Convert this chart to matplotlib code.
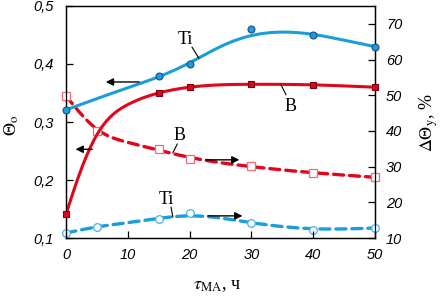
import numpy as np
import matplotlib
matplotlib.use('Agg')
import matplotlib.pyplot as plt
from matplotlib.ticker import FuncFormatter
from matplotlib.font_manager import FontProperties

plt.rcParams['mathtext.fontset'] = 'stix'

# measured points (left axis: Theta_o, right axis: dTheta_y, %)
t_pts = [0, 15, 20, 30, 40, 50]
ti_theta = [0.321, 0.379, 0.400, 0.460, 0.450, 0.429]
b_theta = [0.141, 0.350, 0.360, 0.365, 0.364, 0.360]

t_pts2 = [0, 5, 15, 20, 30, 40, 50]
b_dtheta = [49.8, 40.0, 34.9, 32.1, 30.2, 28.2, 27.1]
ti_dtheta = [11.4, 13.1, 15.3, 17.0, 14.2, 12.2, 12.8]

# trend curves
ti_cx = [0, 10, 15, 20, 25, 30, 35, 40, 45, 50]
ti_cy = [0.321, 0.359, 0.378, 0.402, 0.430, 0.449, 0.455, 0.451, 0.441, 0.430]
b_cx = [0, 2, 5, 10, 15, 20, 30, 40, 50]
b_cy = [0.141, 0.205, 0.278, 0.330, 0.350, 0.360, 0.365, 0.364, 0.360]
bd_cx = [0, 5, 10, 15, 20, 30, 40, 50]
bd_cy = [49.8, 40.5, 36.8, 34.6, 32.6, 30.0, 28.3, 27.0]
tid_cx = [0, 5, 10, 15, 20, 25, 30, 40, 50]
tid_cy = [11.4, 13.1, 14.3, 15.5, 16.2, 15.6, 14.3, 12.6, 12.8]

blue = '#1a9ddb'
red = '#e3051b'


def spline(xk, yk, n=300):
    # natural cubic spline, only to draw the curves smooth
    xk = np.asarray(xk, float)
    yk = np.asarray(yk, float)
    k = len(xk)
    h = np.diff(xk)
    A = np.zeros((k, k))
    r = np.zeros(k)
    A[0, 0] = A[-1, -1] = 1
    for i in range(1, k - 1):
        A[i, i - 1] = h[i - 1]
        A[i, i] = 2 * (h[i - 1] + h[i])
        A[i, i + 1] = h[i]
        r[i] = 6 * ((yk[i + 1] - yk[i]) / h[i] - (yk[i] - yk[i - 1]) / h[i - 1])
    M = np.linalg.solve(A, r)
    xs = np.linspace(xk[0], xk[-1], n)
    j = np.clip(np.searchsorted(xk, xs) - 1, 0, k - 2)
    dx = xs - xk[j]
    hj = h[j]
    b = (yk[j + 1] - yk[j]) / hj - hj * (2 * M[j] + M[j + 1]) / 6
    ys = yk[j] + b * dx + M[j] / 2 * dx ** 2 + (M[j + 1] - M[j]) / (6 * hj) * dx ** 3
    return xs, ys


fig = plt.figure(figsize=(4.44, 2.98), dpi=100)
ax = fig.add_axes([0.1486, 0.2013, 0.696, 0.7786])
ax2 = ax.twinx()

# dashed (right axis)
xs, ys = spline(bd_cx, bd_cy)
ax2.plot(xs, ys, color=red, lw=2.4, dashes=(3, 1.8), dash_capstyle='round', zorder=2)
xs, ys = spline(tid_cx, tid_cy)
ax2.plot(xs, ys, color=blue, lw=2.4, dashes=(3, 1.8), dash_capstyle='round', zorder=2)
ax2.plot(t_pts2, b_dtheta, 's', ms=5.5, mfc='white', mec='#f06a78', mew=0.9,
         clip_on=False, zorder=3)
ax2.plot(t_pts2, ti_dtheta, 'o', ms=5.5, mfc='white', mec='#46b0ea', mew=0.9,
         clip_on=False, zorder=3)

# solid (left axis), left axes drawn on top
ax.set_zorder(ax2.get_zorder() + 1)
ax.patch.set_visible(False)
xs, ys = spline(ti_cx, ti_cy)
ax.plot(xs, ys, color=blue, lw=2.2, zorder=2)
xs, ys = spline(b_cx, b_cy)
ax.plot(xs, ys, color=red, lw=2.2, zorder=2)
ax.plot(t_pts, ti_theta, 'o', ms=5, mfc=blue, mec='#1b4f8a', mew=0.8,
        clip_on=False, zorder=3)
ax.plot(t_pts, b_theta, 's', ms=5, mfc=red, mec='#7a0010', mew=0.8,
        clip_on=False, zorder=3)

ax.set_xlim(0, 50)
ax.set_ylim(0.1, 0.5)
ax2.set_ylim(10, 75)
ax.set_xticks([0, 10, 20, 30, 40, 50])
ax.set_yticks([0.1, 0.2, 0.3, 0.4, 0.5])
ax2.set_yticks([10, 20, 30, 40, 50, 60, 70])

tickfont = FontProperties(family='Liberation Sans', style='italic', size=10.5)
ax.yaxis.set_major_formatter(FuncFormatter(lambda v, p: ('%.1f' % v).replace('.', ',')))
for lab in ax.get_xticklabels() + ax.get_yticklabels() + ax2.get_yticklabels():
    lab.set_fontproperties(tickfont)
ax.tick_params(axis='both', direction='in', length=5, width=0.9, top=False, right=False)
ax.tick_params(axis='y', pad=9)
ax.tick_params(axis='x', pad=7)
ax2.tick_params(axis='y', direction='in', length=5, width=0.9, pad=8)
for a in (ax, ax2):
    for s in a.spines.values():
        s.set_linewidth(0.9)

# arrows pointing at the axis of each curve
ap = dict(arrowstyle='-|>', color='black', lw=1.0, mutation_scale=11)
ax.annotate('', xy=(6.0, 0.369), xytext=(12.3, 0.369), arrowprops=ap)
ax.annotate('', xy=(1.1, 0.253), xytext=(4.7, 0.253), arrowprops=ap)
ax2.annotate('', xy=(28.5, 31.9), xytext=(22.2, 31.9), arrowprops=ap)
ax2.annotate('', xy=(29.0, 16.2), xytext=(22.5, 16.2), arrowprops=ap)

lf = dict(family='Liberation Serif', size=13, ha='center', va='center')
ax.text(19.3, 0.443, 'Ti', **lf)
ax.plot([20.4, 21.5], [0.429, 0.410], color='black', lw=0.8)
ax.text(36.4, 0.326, 'B', **lf)
ax.plot([34.8, 35.6], [0.364, 0.347], color='black', lw=0.8)
ax.text(18.3, 0.276, 'B', **lf)
ax.plot([18.0, 17.3], [0.262, 0.247], color='black', lw=0.8)
ax.text(16.2, 0.167, 'Ti', **lf)
ax.plot([17.0, 17.3], [0.153, 0.136], color='black', lw=0.8)

ax.set_ylabel(r'$\Theta_{\rm o}$', fontsize=13, rotation=90, va='center', ha='center')
ax.yaxis.set_label_coords(-0.175, 0.487)
ax2.set_ylabel(r'$\Delta\Theta_{\rm y}$, %', fontsize=13, family='Liberation Serif',
               rotation=90, va='center', ha='center')
ax2.yaxis.set_label_coords(1.175, 0.496)
ax.set_xlabel(r'$\tau_{\rm MA}$, ч', fontsize=13, family='Liberation Serif', va='center')
ax.xaxis.set_label_coords(0.489, -0.205)

fig.savefig('out.png', dpi=100)
